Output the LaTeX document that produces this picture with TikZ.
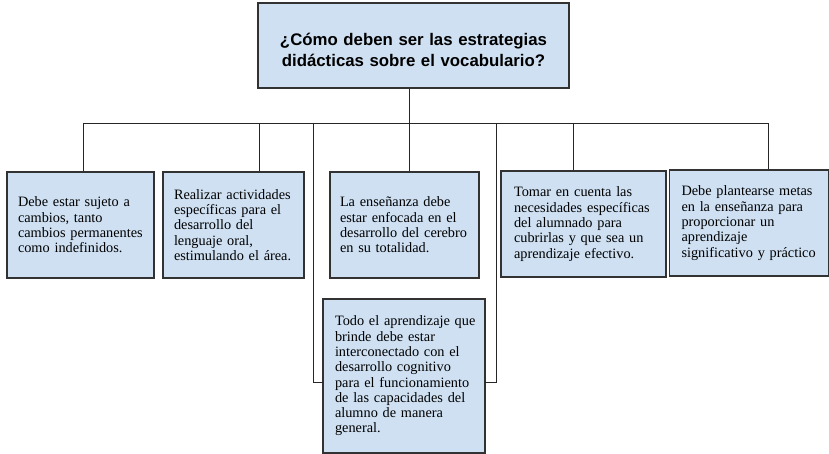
\documentclass[tikz,border=0pt]{standalone}
\usepackage{fontspec}
\setmainfont{Liberation Serif}
\newfontfamily\titlefont{Liberation Sans}
\definecolor{boxfill}{RGB}{206,224,242}
\definecolor{boxline}{RGB}{50,50,50}
\hyphenpenalty=10000
\exhyphenpenalty=10000
\begin{document}
\begin{tikzpicture}[x=1pt,y=-1pt,
  box/.style={draw=boxline, line width=1.2pt, fill=boxfill, rectangle, inner ysep=0pt,
    align=left, font=\fontsize{14.3}{15.3}\selectfont},
  conn/.style={draw=black!85, line width=0.9pt}]
\useasboundingbox (0,0) rectangle (829,454);
% connector points
\coordinate (bus) at (409,123);
\coordinate (d1) at (83,123);
\coordinate (d2) at (259,123);
\coordinate (d4) at (573,123);
\coordinate (d5) at (768,123);
\coordinate (e1) at (313,123);
\coordinate (e2) at (496,123);
\coordinate (j1) at (323,382);
\coordinate (j2) at (485,382);
% boxes
\node[box, align=center, inner xsep=8pt, text width=295pt, minimum height=85pt,
  font=\titlefont\bfseries\fontsize{16.8}{20.5}\selectfont] (top) at (413.5,45.5)
  {\parbox{295pt}{\vspace*{9pt}\centering ¿Cómo deben ser las estrategias\\ didácticas sobre el vocabulario?}};
\node[box, inner xsep=11pt, text width=125pt, minimum height=106pt] (b1) at (80.5,225)
  {Debe estar sujeto a\\ cambios, tanto\\ cambios permanentes\\ como indefinidos.};
\node[box, inner xsep=11pt, text width=119pt, minimum height=106pt] (b2) at (233.5,225)
  {Realizar actividades\\ específicas para el\\ desarrollo del\\ lenguaje oral,\\ estimulando el área.};
\node[box, inner xsep=10pt, text width=129pt, minimum height=106pt] (b3) at (404.5,225)
  {La enseñanza debe\\ estar enfocada en el\\ desarrollo del cerebro\\ en su totalidad.};
\node[box, inner xsep=13pt, text width=139pt, minimum height=106pt] (b4) at (583.5,224)
  {Tomar en cuenta las\\ necesidades específicas\\ del alumnado para\\ cubrirlas y que sea un\\ aprendizaje efectivo.};
\node[box, inner xsep=12pt, text width=135pt, minimum height=106pt] (b5) at (749,223)
  {Debe plantearse metas\\ en la enseñanza para\\ proporcionar un\\ aprendizaje\\ significativo y práctico};
\node[box, inner xsep=12pt, text width=138pt, minimum height=154pt] (b6) at (404,376)
  {Todo~el~aprendizaje~que\\ brinde debe estar\\ interconectado con el\\ desarrollo cognitivo\\ para el funcionamiento\\ de las capacidades del\\ alumno de manera\\ general.};
% lines
\draw[conn] (bus |- top.south) -- (bus);
\draw[conn] (d1) -- (d5);
\draw[conn] (d1) -- (d1 |- b1.north);
\draw[conn] (d2) -- (d2 |- b2.north);
\draw[conn] (bus) -- (bus |- b3.north);
\draw[conn] (d4) -- (d4 |- b4.north);
\draw[conn] (d5) -- (d5 |- b5.north);
\draw[conn] (e1) |- (j1);
\draw[conn] (e2) |- (j2);
\end{tikzpicture}
\end{document}
